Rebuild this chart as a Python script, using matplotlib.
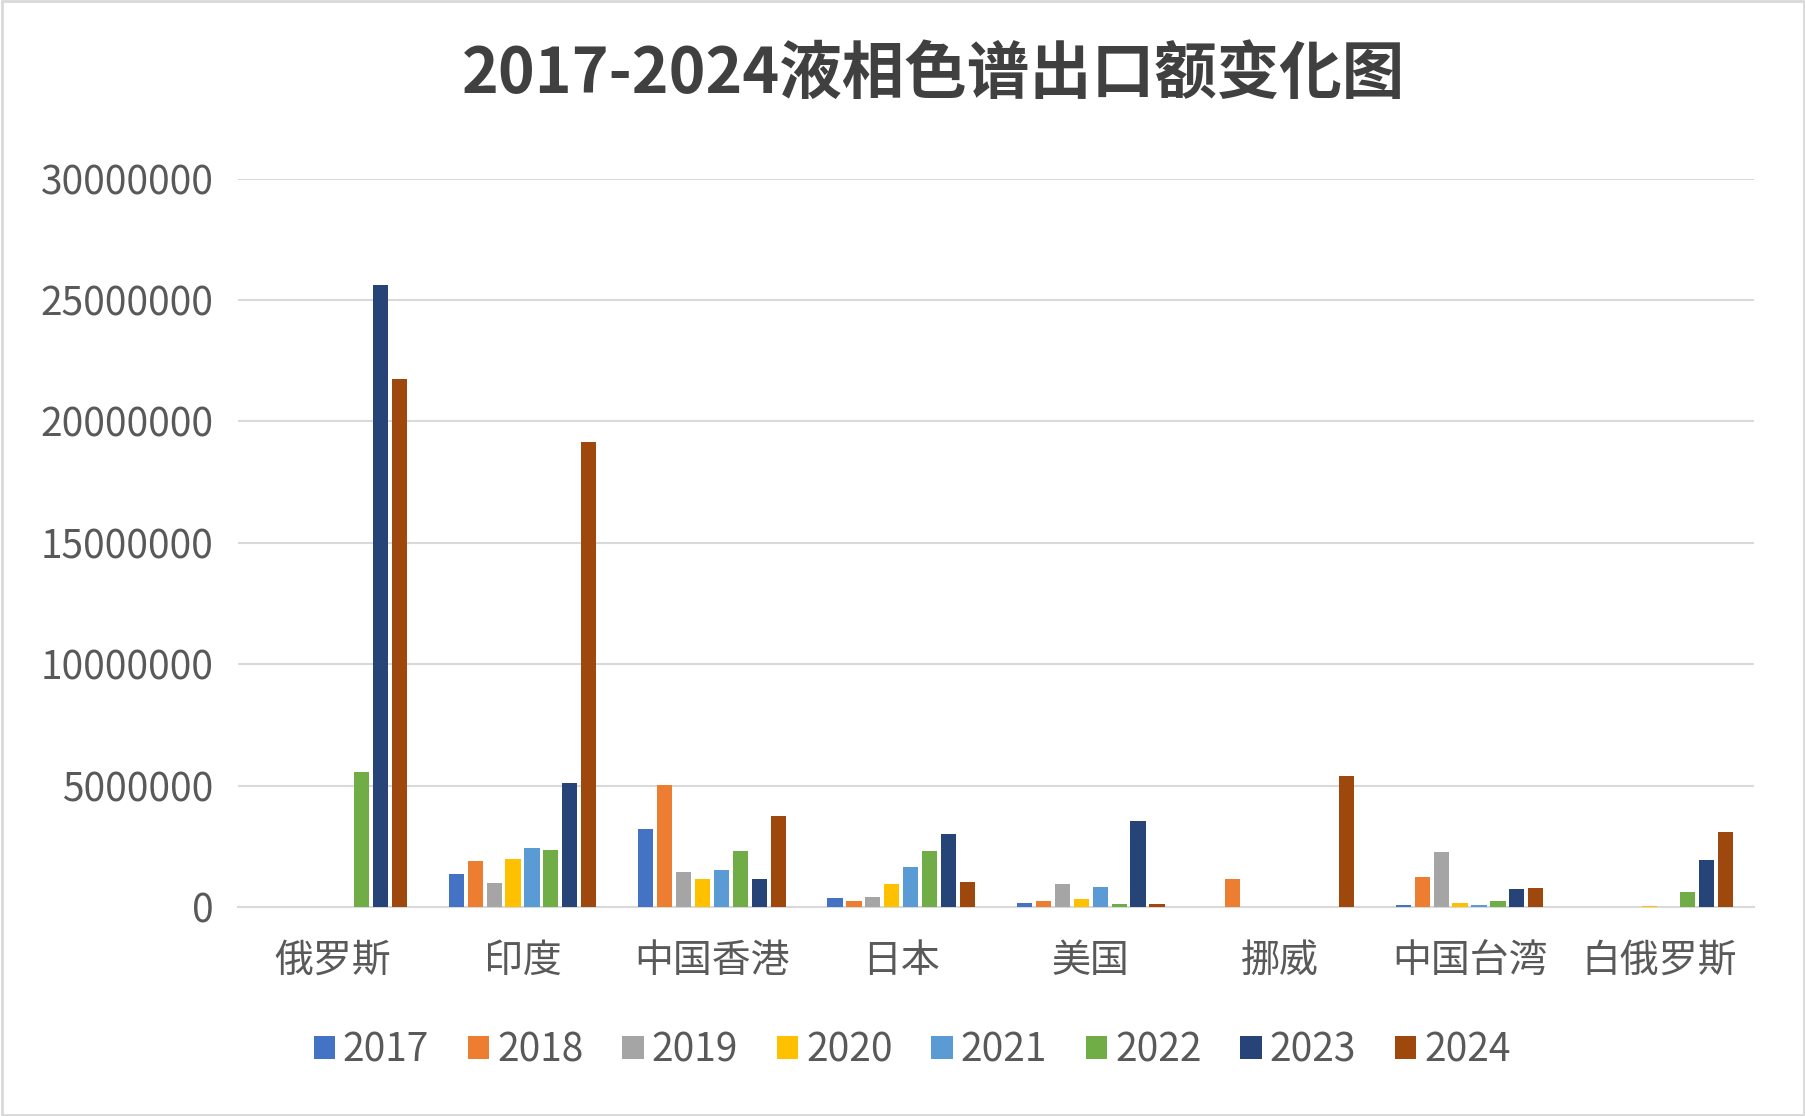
import numpy as np
import matplotlib.pyplot as plt
from matplotlib import font_manager

# pick an installed CJK font by file, falling back to the family name
cjk = [f for f in font_manager.findSystemFonts() if 'CJK' in f]
if cjk:
    for f in cjk:
        font_manager.fontManager.addfont(f)
    fam = font_manager.FontProperties(fname=sorted(cjk)[0]).get_name()
else:
    fam = 'Noto Sans CJK SC'
plt.rcParams['font.family'] = [fam, 'DejaVu Sans']

countries = ['俄罗斯', '印度', '中国香港', '日本', '美国', '挪威', '中国台湾', '白俄罗斯']
years = ['2017', '2018', '2019', '2020', '2021', '2022', '2023', '2024']
colors = ['#4472C4', '#ED7D31', '#A5A5A5', '#FFC000', '#5B9BD5', '#70AD47', '#264478', '#9E480E']

# values per year, one entry per country
v2017 = [0, 1370000, 3220000, 380000, 190000, 0, 90000, 0]
v2018 = [0, 1900000, 5020000, 240000, 240000, 1180000, 1230000, 0]
v2019 = [0, 1000000, 1470000, 430000, 950000, 0, 2270000, 20000]
v2020 = [0, 2000000, 1180000, 950000, 330000, 0, 190000, 70000]
v2021 = [0, 2460000, 1520000, 1660000, 850000, 0, 90000, 0]
v2022 = [5550000, 2370000, 2320000, 2320000, 140000, 0, 280000, 620000]
v2023 = [25600000, 5120000, 1180000, 3030000, 3550000, 0, 760000, 1940000]
v2024 = [21750000, 19150000, 3740000, 1040000, 140000, 5400000, 800000, 3080000]
series = [v2017, v2018, v2019, v2020, v2021, v2022, v2023, v2024]

fig = plt.figure(figsize=(18.06, 11.16), dpi=100)
ax = fig.add_axes([0.132, 0.187, 0.839, 0.653])
x = np.arange(len(countries))
for i, (vals, c) in enumerate(zip(series, colors)):
    ax.bar(x + (i - 3.5) * 0.1, vals, width=0.08, color=c, label=years[i], zorder=3)

ax.set_xlim(-0.5, len(countries) - 0.5)
ax.set_ylim(0, 30000000)
ax.set_yticks(np.arange(0, 30000001, 5000000))
ax.set_yticklabels([str(int(t)) for t in np.arange(0, 30000001, 5000000)])
ax.set_xticks(x)
ax.set_xticklabels(countries)
ax.tick_params(axis='both', labelsize=28, colors='#595959', length=0)
ax.tick_params(axis='x', pad=24)
ax.tick_params(axis='y', pad=18)
ax.grid(axis='y', color='#D9D9D9', linewidth=1.5, zorder=0)
for s in ['top', 'right', 'left']:
    ax.spines[s].set_visible(False)
ax.spines['bottom'].set_color('#D9D9D9')
ax.spines['bottom'].set_linewidth(1.5)

fig.text(0.517, 0.933, '2017-2024液相色谱出口额变化图', ha='center', va='center',
         fontsize=45, fontweight='bold', color='#404040')
fig.legend(loc='center', bbox_to_anchor=(0.505, 0.059), ncol=8, frameon=False,
           fontsize=28, labelcolor='#595959', handlelength=0.55, handleheight=0.55,
           handletextpad=0.2, columnspacing=1.0)
fig.patches.append(plt.Rectangle((0.001, 0.001), 0.998, 0.998, transform=fig.transFigure,
                                 fill=False, edgecolor='#D9D9D9', linewidth=2))
fig.savefig('out.png', dpi=100)
